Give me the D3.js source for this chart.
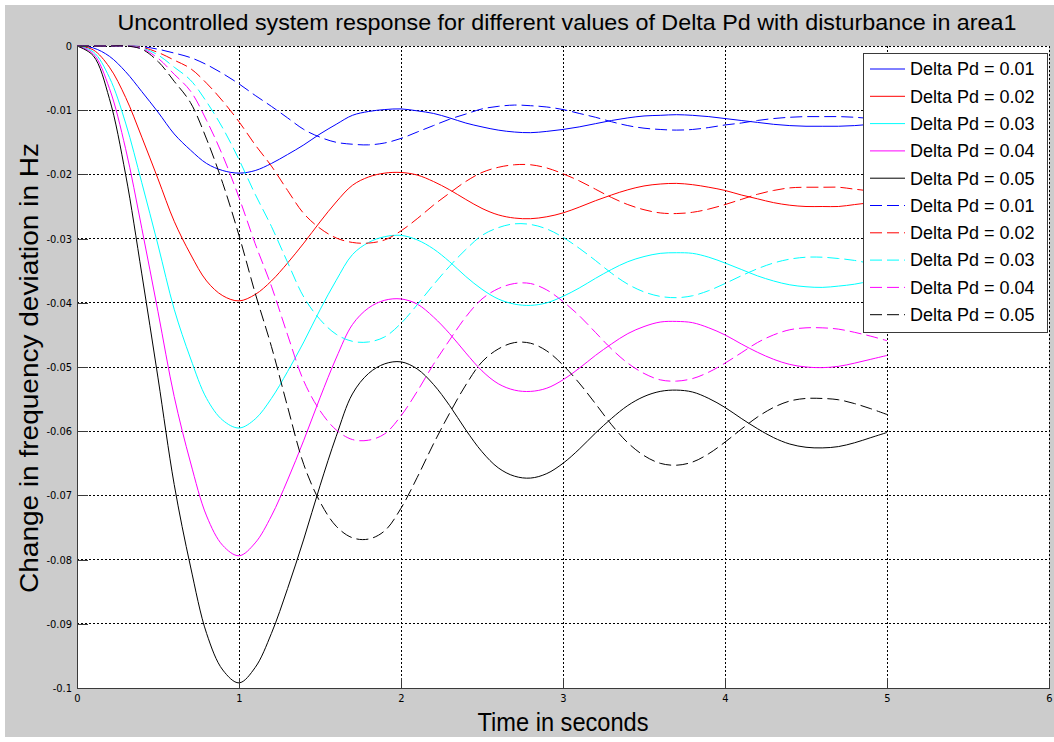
<!DOCTYPE html>
<html>
<head>
<meta charset="utf-8">
<script src="https://cdn.jsdelivr.net/npm/d3@7/dist/d3.min.js"></script>
<style>
body { margin: 0; background: #ffffff; }
svg { display: block; }
</style>
</head>
<body>
<svg id="chart"></svg>
<script>

// time in seconds (sampled every 0.1 s)
var time = [0,0.1,0.2,0.3,0.4,0.5,0.6,0.7,0.8,0.9,
    1.0,1.1,1.2,1.3,1.4,1.5,1.6,1.7,1.8,1.9,
    2.0,2.1,2.2,2.3,2.4,2.5,2.6,2.7,2.8,2.9,
    3.0,3.1,3.2,3.3,3.4,3.5,3.6,3.7,3.8,3.9,
    4.0,4.1,4.2,4.3,4.4,4.5,4.6,4.7,4.8,4.9,5.0]

// solid curves
var solid01 = [0,-0.0003,-0.0016,-0.004,-0.0071,-0.0103,-0.0137,-0.0162,-0.0183,-0.0194,
    -0.0198,-0.0194,-0.0183,-0.0169,-0.0154,-0.0137,-0.0122,-0.0108,-0.0102,-0.0099,
    -0.0098,-0.0101,-0.0105,-0.0112,-0.012,-0.0126,-0.0131,-0.0134,-0.0135,-0.0133,
    -0.013,-0.0126,-0.0121,-0.0116,-0.0112,-0.0109,-0.0108,-0.0107,-0.0108,-0.011,
    -0.0113,-0.0116,-0.0119,-0.0122,-0.0124,-0.0125,-0.0125,-0.0125,-0.0124,-0.0122,-0.012]
var solid02 = [0,-0.0006,-0.0033,-0.008,-0.0142,-0.0207,-0.0273,-0.0324,-0.0366,-0.0389,
    -0.0397,-0.0387,-0.0366,-0.0338,-0.0307,-0.0274,-0.0243,-0.0217,-0.0204,-0.0198,
    -0.0197,-0.0201,-0.0211,-0.0224,-0.0239,-0.0253,-0.0263,-0.0268,-0.0269,-0.0266,
    -0.026,-0.0251,-0.0241,-0.0232,-0.0224,-0.0218,-0.0215,-0.0214,-0.0216,-0.022,
    -0.0225,-0.0232,-0.0238,-0.0244,-0.0248,-0.025,-0.025,-0.025,-0.0247,-0.0244,-0.0241]
var solid03 = [0,-0.0009,-0.0049,-0.012,-0.0213,-0.031,-0.041,-0.0486,-0.0549,-0.0583,
    -0.0595,-0.0581,-0.0549,-0.0507,-0.0461,-0.0411,-0.0365,-0.0325,-0.0306,-0.0297,
    -0.0295,-0.0302,-0.0316,-0.0336,-0.0359,-0.0379,-0.0394,-0.0402,-0.0404,-0.04,
    -0.039,-0.0377,-0.0362,-0.0348,-0.0336,-0.0328,-0.0323,-0.0322,-0.0323,-0.0329,
    -0.0338,-0.0348,-0.0358,-0.0366,-0.0372,-0.0375,-0.0376,-0.0374,-0.0371,-0.0366,-0.0361]
var solid04 = [0,-0.0012,-0.0066,-0.016,-0.0284,-0.0414,-0.0546,-0.0648,-0.0732,-0.0778,
    -0.0794,-0.0774,-0.0732,-0.0676,-0.0614,-0.0548,-0.0486,-0.0434,-0.0408,-0.0396,
    -0.0394,-0.0402,-0.0422,-0.0448,-0.0478,-0.0506,-0.0526,-0.0536,-0.0538,-0.0533,
    -0.052,-0.0502,-0.0482,-0.0464,-0.0448,-0.0437,-0.043,-0.0429,-0.0431,-0.0439,
    -0.045,-0.0464,-0.0477,-0.0488,-0.0496,-0.05,-0.0501,-0.0499,-0.0494,-0.0488,-0.0482]
var solid05 = [0,-0.0015,-0.0082,-0.02,-0.0355,-0.0517,-0.0683,-0.081,-0.0915,-0.0972,
    -0.0992,-0.0968,-0.0915,-0.0845,-0.0768,-0.0685,-0.0608,-0.0542,-0.051,-0.0495,
    -0.0492,-0.0503,-0.0527,-0.056,-0.0598,-0.0632,-0.0657,-0.067,-0.0673,-0.0666,
    -0.065,-0.0628,-0.0603,-0.058,-0.056,-0.0546,-0.0538,-0.0536,-0.0539,-0.0549,
    -0.0563,-0.058,-0.0596,-0.061,-0.062,-0.0625,-0.0626,-0.0624,-0.0618,-0.061,-0.0602]

// dashed curves
var dashed01 = [0,0,0,0,-0.0001,-0.0005,-0.0011,-0.0018,-0.0029,-0.0043,
    -0.0059,-0.0077,-0.0094,-0.0112,-0.013,-0.0142,-0.015,-0.0153,-0.0154,-0.0151,
    -0.0144,-0.0134,-0.0124,-0.0114,-0.0106,-0.0098,-0.0094,-0.0092,-0.0093,-0.0095,
    -0.0099,-0.0105,-0.0111,-0.0118,-0.0124,-0.0128,-0.013,-0.0131,-0.013,-0.0127,
    -0.0123,-0.012,-0.0116,-0.0113,-0.0111,-0.011,-0.011,-0.011,-0.0111,-0.0113,-0.0115]
var dashed02 = [0,0,0,0,-0.0002,-0.001,-0.0022,-0.0035,-0.0058,-0.0086,
    -0.0118,-0.0154,-0.0187,-0.0225,-0.0261,-0.0284,-0.0299,-0.0306,-0.0307,-0.0302,
    -0.0288,-0.0269,-0.0248,-0.0229,-0.0211,-0.0197,-0.0189,-0.0185,-0.0185,-0.019,
    -0.0199,-0.021,-0.0223,-0.0236,-0.0247,-0.0255,-0.026,-0.0261,-0.0259,-0.0254,
    -0.0247,-0.0239,-0.0231,-0.0225,-0.0221,-0.022,-0.022,-0.022,-0.0223,-0.0226,-0.023]
var dashed03 = [0,0,0,0,-0.0003,-0.0014,-0.0033,-0.0053,-0.0087,-0.0128,
    -0.0177,-0.0231,-0.0281,-0.0337,-0.0391,-0.0426,-0.0449,-0.046,-0.0461,-0.0453,
    -0.0432,-0.0403,-0.0372,-0.0343,-0.0317,-0.0295,-0.0283,-0.0277,-0.0278,-0.0285,
    -0.0298,-0.0315,-0.0334,-0.0354,-0.0371,-0.0383,-0.039,-0.0392,-0.0389,-0.0381,
    -0.037,-0.0358,-0.0347,-0.0338,-0.0332,-0.0329,-0.0329,-0.0331,-0.0334,-0.0339,-0.0344]
var dashed04 = [0,0,0,0,-0.0004,-0.0019,-0.0044,-0.007,-0.0116,-0.0171,
    -0.0236,-0.0308,-0.0374,-0.045,-0.0522,-0.0568,-0.0598,-0.0613,-0.0614,-0.0604,
    -0.0576,-0.0538,-0.0496,-0.0458,-0.0422,-0.0394,-0.0378,-0.037,-0.037,-0.038,
    -0.0398,-0.042,-0.0446,-0.0472,-0.0494,-0.051,-0.052,-0.0522,-0.0518,-0.0508,
    -0.0494,-0.0478,-0.0462,-0.045,-0.0442,-0.0439,-0.0439,-0.0441,-0.0446,-0.0452,-0.0459]
var dashed05 = [0,0,0,0,-0.0005,-0.0024,-0.0055,-0.0088,-0.0145,-0.0214,
    -0.0295,-0.0385,-0.0468,-0.0562,-0.0652,-0.071,-0.0748,-0.0766,-0.0768,-0.0755,
    -0.072,-0.0672,-0.062,-0.0572,-0.0528,-0.0492,-0.0472,-0.0462,-0.0463,-0.0475,
    -0.0497,-0.0525,-0.0557,-0.059,-0.0618,-0.0638,-0.065,-0.0653,-0.0648,-0.0635,
    -0.0617,-0.0597,-0.0578,-0.0563,-0.0553,-0.0549,-0.0549,-0.0551,-0.0557,-0.0565,-0.0574]

var legendLabels = ["Delta Pd = 0.01","Delta Pd = 0.02","Delta Pd = 0.03","Delta Pd = 0.04","Delta Pd = 0.05",
    "Delta Pd = 0.01","Delta Pd = 0.02","Delta Pd = 0.03","Delta Pd = 0.04","Delta Pd = 0.05"]

var xTicks = [0,1,2,3,4,5,6]
var xTickLabels = ["0","1","2","3","4","5","6"]
var yTicks = [0,-0.01,-0.02,-0.03,-0.04,-0.05,-0.06,-0.07,-0.08,-0.09,-0.1]
var yTickLabels = ["0","-0.01","-0.02","-0.03","-0.04","-0.05","-0.06","-0.07","-0.08","-0.09","-0.1"]

var dimensions = {
    width: 1054,
    height: 742,
    margin: {
        top: 46,
        bottom: 54,
        right: 5,
        left: 77
    }
}

var lineColors = ["#0000ff","#ff0000","#00ffff","#ff00ff","#000000"]

var series = [
    {values: solid01, color: lineColors[0], dash: null},
    {values: solid02, color: lineColors[1], dash: null},
    {values: solid03, color: lineColors[2], dash: null},
    {values: solid04, color: lineColors[3], dash: null},
    {values: solid05, color: lineColors[4], dash: null},
    {values: dashed01, color: lineColors[0], dash: "12,5"},
    {values: dashed02, color: lineColors[1], dash: "12,5"},
    {values: dashed03, color: lineColors[2], dash: "12,5"},
    {values: dashed04, color: lineColors[3], dash: "12,5"},
    {values: dashed05, color: lineColors[4], dash: "12,5"}
]

var svg = d3.select("#chart")
    .attr("width", dimensions.width)
    .attr("height", dimensions.height)

// grey figure background
svg.append("rect")
    .attr("x", 5)
    .attr("y", 5)
    .attr("width", dimensions.width - 5)
    .attr("height", dimensions.height - 10)
    .attr("fill", "#cccccc")

var x0 = dimensions.margin.left
var x1 = dimensions.width - dimensions.margin.right
var y0 = dimensions.margin.top
var y1 = dimensions.height - dimensions.margin.bottom

svg.append("rect")
    .attr("x", x0)
    .attr("y", y0)
    .attr("width", x1 - x0)
    .attr("height", y1 - y0)
    .attr("fill", "#ffffff")

var xScale = d3.scaleLinear()
    .domain([0, 6])
    .range([x0, x1])

var yScale = d3.scaleLinear()
    .domain([-0.1, 0])
    .range([y1, y0])

// dotted grid
svg.append("g")
    .selectAll("line")
    .data(xTicks.slice(1))
    .enter()
    .append("line")
    .attr("x1", d => xScale(d))
    .attr("x2", d => xScale(d))
    .attr("y1", y0)
    .attr("y2", y1)
    .attr("stroke", "#000")
    .attr("stroke-width", 1)
    .attr("stroke-dasharray", "2,2")
    .attr("shape-rendering", "crispEdges")

svg.append("g")
    .selectAll("line")
    .data(yTicks.slice(0, yTicks.length - 1))
    .enter()
    .append("line")
    .attr("x1", x0)
    .attr("x2", x1)
    .attr("y1", d => yScale(d))
    .attr("y2", d => yScale(d))
    .attr("stroke", "#000")
    .attr("stroke-width", 1)
    .attr("stroke-dasharray", "2,2")
    .attr("shape-rendering", "crispEdges")

// curves
var lineGen = d3.line()
    .x((d, i) => xScale(time[i]))
    .y(d => yScale(d))
    .curve(d3.curveCatmullRom)

svg.append("g")
    .selectAll("path")
    .data(series)
    .enter()
    .append("path")
    .attr("d", d => lineGen(d.values))
    .attr("fill", "none")
    .attr("stroke", d => d.color)
    .attr("stroke-width", 1)
    .attr("stroke-dasharray", d => d.dash)

// axes
var tickFont = "'Liberation Sans Narrow', 'DejaVu Sans Condensed', sans-serif"
var mainFont = "'Liberation Sans', Arial, sans-serif"

var xAxisgen = d3.axisBottom(xScale)
    .tickValues(xTicks)
    .tickFormat((d, i) => xTickLabels[i])
    .tickSize(-10)
    .tickSizeOuter(0)
    .tickPadding(6)

var yAxisgen = d3.axisLeft(yScale)
    .tickValues(yTicks)
    .tickFormat((d, i) => yTickLabels[i])
    .tickSize(-11)
    .tickSizeOuter(0)
    .tickPadding(5)

var xAxis = svg.append("g")
    .attr("transform", "translate(0," + y1 + ")")
    .call(xAxisgen)

var yAxis = svg.append("g")
    .attr("transform", "translate(" + x0 + ",0)")
    .call(yAxisgen)

svg.selectAll(".tick text")
    .style("font-family", tickFont)
    .style("font-size", "11px")
    .attr("fill", "#000")
svg.selectAll(".domain, .tick line")
    .attr("stroke", "#3a3a3a")
    .attr("shape-rendering", "crispEdges")

// legend
var legend = svg.append("g")

legend.append("rect")
    .attr("x", 863.5)
    .attr("y", 53.5)
    .attr("width", 184)
    .attr("height", 279)
    .attr("fill", "#ffffff")
    .attr("stroke", "#3a3a3a")
    .attr("stroke-width", 1)

var rows = legend.selectAll(".row")
    .data(series)
    .enter()
    .append("g")
    .attr("class", "row")
    .attr("transform", (d, i) => "translate(0," + (69 + i * 27.3) + ")")

rows.append("line")
    .attr("x1", 870)
    .attr("x2", 905)
    .attr("y1", 0)
    .attr("y2", 0)
    .attr("stroke", d => d.color)
    .attr("stroke-width", 1)
    .attr("stroke-dasharray", d => d.dash)

rows.append("text")
    .attr("x", 910)
    .attr("y", 0)
    .attr("dy", "0.35em")
    .style("font-family", mainFont)
    .style("font-size", "18px")
    .text((d, i) => legendLabels[i])

// titles
svg.append("text")
    .attr("x", 567)
    .attr("y", 30)
    .attr("text-anchor", "middle")
    .attr("textLength", 899)
    .attr("lengthAdjust", "spacingAndGlyphs")
    .style("font-family", mainFont)
    .style("font-size", "22px")
    .text("Uncontrolled system response for different values of Delta Pd with disturbance in area1")

svg.append("text")
    .attr("x", 563)
    .attr("y", 731)
    .attr("text-anchor", "middle")
    .attr("textLength", 171)
    .attr("lengthAdjust", "spacingAndGlyphs")
    .style("font-family", mainFont)
    .style("font-size", "25px")
    .text("Time in seconds")

svg.append("text")
    .attr("transform", "translate(38,368) rotate(-90)")
    .attr("text-anchor", "middle")
    .attr("textLength", 450)
    .attr("lengthAdjust", "spacingAndGlyphs")
    .style("font-family", mainFont)
    .style("font-size", "25px")
    .text("Change in frequency deviation in Hz")

</script>
</body>
</html>
